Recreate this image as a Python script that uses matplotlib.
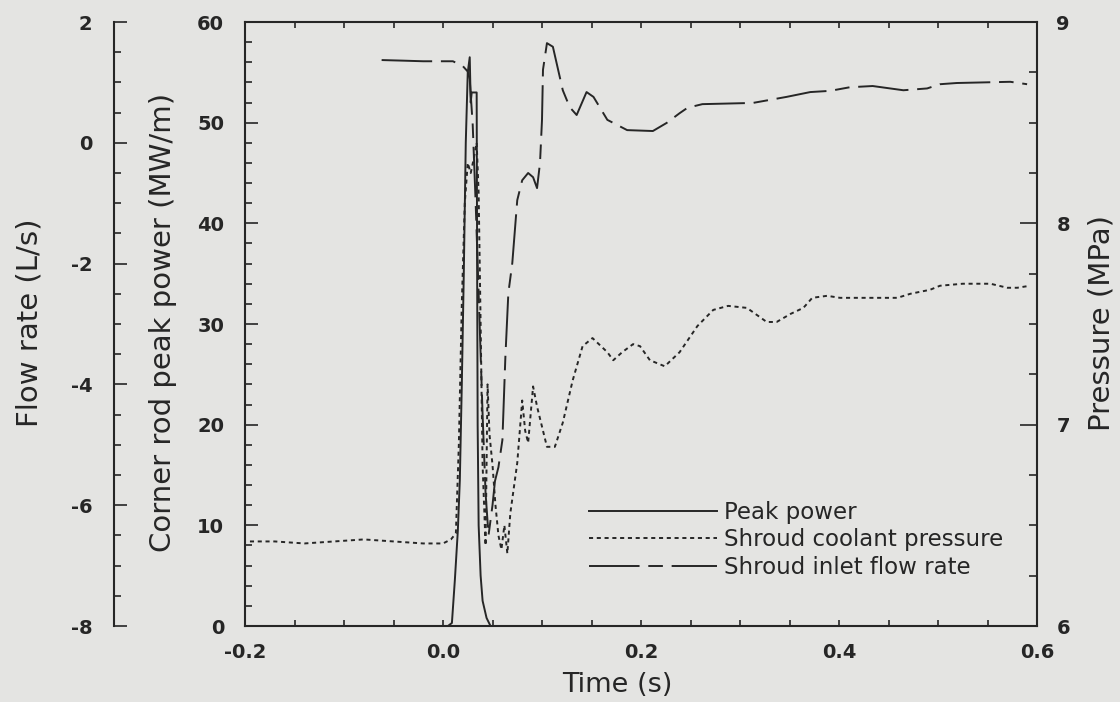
## Imports
import numpy as np
import matplotlib
matplotlib.use('Agg')
import matplotlib.pyplot as plt
from matplotlib.ticker import MultipleLocator, FormatStrFormatter

## Styles
plt.rcParams['font.family'] = ['DejaVu Sans']
plt.rcParams['axes.unicode_minus'] = False
bg = '#e4e4e2'
ink = '#262626'
font_tick = 14
font_label = 21
font_xlabel = 19.5
font_legend = 16.5

## Data
# Corner rod peak power (MW/m)
time_power = [0.005, 0.009, 0.012, 0.015, 0.017, 0.019, 0.021, 0.023, 0.025, 0.027,
              0.028, 0.029, 0.034, 0.0345, 0.035, 0.036, 0.038, 0.040, 0.044, 0.048]
peak_power = [0, 0.3, 4.6, 9.5, 14.5, 24, 35, 48, 55, 56.5,
              52, 53, 53, 35, 20, 10, 5, 2.5, 0.8, 0]

# Shroud coolant pressure (MPa)
time_press = [-0.195, -0.17, -0.14, -0.11, -0.08, -0.05, -0.02, 0.0, 0.008, 0.013,
              0.016, 0.019, 0.022, 0.025, 0.028, 0.031, 0.034, 0.036, 0.038, 0.040,
              0.043, 0.045, 0.047, 0.050, 0.053, 0.056, 0.059, 0.062, 0.065, 0.068,
              0.075, 0.080, 0.083, 0.086, 0.091, 0.095, 0.105, 0.113, 0.121, 0.131,
              0.141, 0.151, 0.166, 0.172, 0.181, 0.192, 0.199, 0.209, 0.224, 0.239,
              0.257, 0.273, 0.288, 0.307, 0.327, 0.337, 0.351, 0.364, 0.373, 0.388,
              0.401, 0.459, 0.472, 0.492, 0.502, 0.525, 0.553, 0.570, 0.580, 0.593]
pressure = [6.42, 6.42, 6.41, 6.42, 6.43, 6.42, 6.41, 6.41, 6.43, 6.46,
            6.9, 7.6, 8.1, 8.3, 8.25, 8.32, 8.4, 8.15, 7.5, 6.8,
            6.4, 7.2, 6.95, 6.8, 6.6, 6.45, 6.38, 6.5, 6.36, 6.56,
            6.81, 7.12, 6.97, 6.91, 7.19, 7.09, 6.89, 6.89, 7.01, 7.22,
            7.39, 7.43, 7.36, 7.32, 7.36, 7.40, 7.39, 7.32, 7.29, 7.36,
            7.49, 7.57, 7.59, 7.58, 7.51, 7.51, 7.55, 7.58, 7.63, 7.64,
            7.63, 7.63, 7.65, 7.67, 7.69, 7.70, 7.70, 7.68, 7.68, 7.69]

# Shroud inlet flow rate (L/s)
time_flow = [-0.062, -0.04, -0.02, 0.0, 0.010, 0.020, 0.025, 0.027, 0.030, 0.033,
             0.037, 0.040, 0.043, 0.046, 0.050, 0.0525, 0.056, 0.060, 0.063, 0.066,
             0.070, 0.075, 0.080, 0.086, 0.091, 0.095, 0.098, 0.100, 0.101, 0.105,
             0.111, 0.121, 0.128, 0.135, 0.145, 0.152, 0.166, 0.186, 0.212, 0.226,
             0.239, 0.247, 0.262, 0.313, 0.330, 0.347, 0.371, 0.391, 0.411, 0.434,
             0.465, 0.489, 0.502, 0.519, 0.573, 0.590]
flow = [1.37, 1.36, 1.35, 1.35, 1.35, 1.27, 1.18, 1.05, 0.3, -1.0,
        -3.0, -4.5, -5.8, -6.5, -6.0, -5.6, -5.37, -4.92, -3.55, -2.49,
        -1.99, -0.95, -0.62, -0.50, -0.57, -0.75, -0.33, 0.38, 1.21, 1.65,
        1.59, 0.87, 0.59, 0.46, 0.84, 0.76, 0.38, 0.21, 0.195, 0.33,
        0.49, 0.58, 0.64, 0.66, 0.71, 0.76, 0.84, 0.86, 0.92, 0.94,
        0.87, 0.90, 0.97, 0.99, 1.01, 0.97]

labels = ['Peak power', 'Shroud coolant pressure', 'Shroud inlet flow rate']

## Figure
fig = plt.figure(figsize=(11.2, 7.02), dpi=100, facecolor=bg)
ax = fig.add_axes([245/1120, 76/702, 792/1120, 604/702])
ax.set_facecolor(bg)
ax_p = ax.twinx()
ax_f = ax.twinx()

lw = 1.4
dotted = (0, (2.1, 1.9))
dashdot = (0, (26, 4.5, 7.5, 4.5))

l1, = ax.plot(time_power, peak_power, color=ink, lw=lw, ls='-')
l2, = ax_p.plot(time_press, pressure, color=ink, lw=lw, ls=dotted)
l3, = ax_f.plot(time_flow, flow, color=ink, lw=lw, ls=dashdot)

# limits and ticks
ax.set_xlim(-0.2, 0.6)
ax.set_ylim(0, 60)
ax_p.set_ylim(6, 9)
ax_f.set_ylim(-8, 2)

ax.xaxis.set_major_locator(MultipleLocator(0.2))
ax.xaxis.set_minor_locator(MultipleLocator(0.05))
ax.xaxis.set_major_formatter(FormatStrFormatter('%.1f'))
ax.yaxis.set_major_locator(MultipleLocator(10))
ax.yaxis.set_minor_locator(MultipleLocator(2))
ax_p.yaxis.set_major_locator(MultipleLocator(1))
ax_p.yaxis.set_minor_locator(MultipleLocator(0.25))
ax_f.yaxis.set_major_locator(MultipleLocator(2))
ax_f.yaxis.set_minor_locator(MultipleLocator(0.5))

# spines
for a in (ax, ax_p, ax_f):
    for s in a.spines.values():
        s.set_visible(False)
for s in ('left', 'bottom', 'top'):
    ax.spines[s].set_visible(True)
    ax.spines[s].set_linewidth(1.5)
    ax.spines[s].set_color(ink)
ax_p.spines['right'].set_visible(True)
ax_p.spines['right'].set_linewidth(1.5)
ax_p.spines['right'].set_color(ink)
ax_f.spines['left'].set_visible(True)
ax_f.spines['left'].set_position(('outward', 94))
ax_f.spines['left'].set_linewidth(1.5)
ax_f.spines['left'].set_color(ink)
ax_f.yaxis.set_ticks_position('left')
ax_f.yaxis.set_label_position('left')

ax.tick_params(axis='x', which='both', direction='in', top=True, length=4.5,
               width=1.2, color=ink, pad=12, labelsize=font_tick, labelcolor=ink)
ax.tick_params(axis='y', which='major', direction='in', length=9.5, width=1.2,
               color=ink, pad=15, labelsize=font_tick, labelcolor=ink)
ax.tick_params(axis='y', which='minor', direction='in', length=5, width=1.2, color=ink)
ax_p.tick_params(axis='y', which='major', direction='in', length=12, width=1.2,
                 color=ink, pad=14, labelsize=font_tick, labelcolor=ink)
ax_p.tick_params(axis='y', which='minor', direction='in', length=6, width=1.2, color=ink)
ax_f.tick_params(axis='y', which='major', direction='in', length=9.5, width=1.2,
                 color=ink, pad=16, labelsize=font_tick, labelcolor=ink)
ax_f.tick_params(axis='y', which='minor', direction='in', length=5, width=1.2, color=ink)

for a in (ax, ax_p, ax_f):
    for label in a.get_xticklabels() + a.get_yticklabels():
        label.set_fontweight('bold')

# axis labels
ax.set_xlabel('Time (s)', fontsize=font_xlabel, color=ink, va='center')
ax.xaxis.set_label_coords(0.470, -0.098)
ax.set_ylabel('Corner rod peak power (MW/m)', fontsize=font_label, color=ink, va='center')
ax.yaxis.set_label_coords(-0.1035, 0.503)
ax_p.set_ylabel('Pressure (MPa)', fontsize=font_label, color=ink, va='center', rotation=90)
ax_p.yaxis.set_label_coords(1.082, 0.502)
ax_f.set_ylabel('Flow rate (L/s)', fontsize=font_label, color=ink, va='center')
ax_f.yaxis.set_label_coords(-0.2715, 0.502)

# legend
leg = ax.legend([l1, l2, l3], labels, loc='upper left', bbox_to_anchor=(0.434, 0.207),
                frameon=False, fontsize=font_legend, handlelength=5.6, handletextpad=0.3,
                labelspacing=0.19, borderpad=0, borderaxespad=0)
for t in leg.get_texts():
    t.set_color(ink)

plt.savefig('out.png', dpi=100, facecolor=bg)
